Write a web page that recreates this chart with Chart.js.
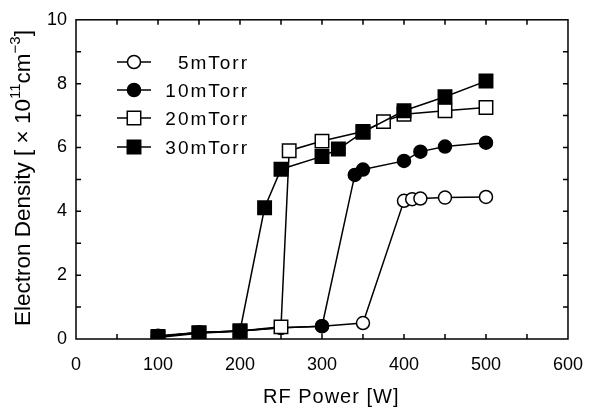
<!DOCTYPE html>
<html>
<head>
<meta charset="utf-8">
<script src="https://cdn.jsdelivr.net/npm/chart.js@4/dist/chart.umd.min.js"></script>
<style>
  body { margin: 0; background: #fff; }
</style>
</head>
<body>
<canvas id="densityChart" width="598" height="410"></canvas>
<script>
const seriesNames = ['5mTorr', '10mTorr', '20mTorr', '30mTorr'];

const power5 = [100, 150, 200, 250, 300, 350, 400, 410, 420, 450, 500];
const density5 = [0.1, 0.2, 0.25, 0.35, 0.4, 0.5, 4.33, 4.38, 4.4, 4.43, 4.45];

const power10 = [100, 150, 200, 250, 300, 340, 350, 400, 420, 450, 500];
const density10 = [0.08, 0.2, 0.25, 0.35, 0.4, 5.14, 5.31, 5.58, 5.87, 6.03, 6.15];

const power20 = [100, 150, 200, 250, 260, 300, 350, 375, 400, 450, 500];
const density20 = [0.08, 0.2, 0.25, 0.38, 5.9, 6.2, 6.5, 6.81, 7.04, 7.15, 7.25];

const power30 = [100, 150, 200, 230, 250, 300, 320, 350, 400, 450, 500];
const density30 = [0.05, 0.18, 0.25, 4.11, 5.32, 5.72, 5.95, 6.48, 7.15, 7.59, 8.08];

const xTicks = [0, 100, 200, 300, 400, 500, 600];
const yTicks = [0, 2, 4, 6, 8, 10];

const xTitle = 'RF Power [W]';
// y title pieces: [text, superscript?]
const yTitle = [['Electron Density [ \u00d7 10', false], ['11', true], ['cm', false], ['\u22123', true], [']', false]];

const FONT = '"Liberation Sans", Arial, sans-serif';

function toPoints(xs, ys) {
  return xs.map((x, i) => ({ x: x, y: ys[i] }));
}

function makeSet(label, xs, ys, style, fill, radius, order) {
  return {
    label: label,
    data: toPoints(xs, ys),
    showLine: true,
    borderColor: '#000',
    borderWidth: 1.5,
    pointStyle: style,
    pointRadius: radius,
    pointHoverRadius: radius,
    pointBackgroundColor: fill,
    pointBorderColor: '#000',
    pointBorderWidth: 1.5,
    order: order
  };
}

const datasets = [
  makeSet(seriesNames[0], power5, density5, 'circle', '#fff', 6.5, 4),
  makeSet(seriesNames[1], power10, density10, 'circle', '#000', 6.5, 3),
  makeSet(seriesNames[2], power20, density20, 'rect', '#fff', 9.5, 2),
  makeSet(seriesNames[3], power30, density30, 'rect', '#000', 9.5, 1)
];

// frame with inward ticks on all four sides, axis titles, legend inside the plot
const framePlugin = {
  id: 'frame',
  afterDatasetsDraw(chart) {
    const ctx = chart.ctx;
    const a = chart.chartArea;
    const xs = chart.scales.x;
    const ys = chart.scales.y;
    ctx.save();
    ctx.strokeStyle = '#000';
    ctx.lineWidth = 1.5;
    ctx.strokeRect(a.left, a.top, a.right - a.left, a.bottom - a.top);
    ctx.beginPath();
    for (let v = 50; v < 600; v += 50) {
      const px = xs.getPixelForValue(v);
      ctx.moveTo(px, a.bottom); ctx.lineTo(px, a.bottom - 5);
      ctx.moveTo(px, a.top); ctx.lineTo(px, a.top + 5);
    }
    for (let v = 1; v < 10; v += 1) {
      const py = ys.getPixelForValue(v);
      ctx.moveTo(a.left, py); ctx.lineTo(a.left + 5, py);
      ctx.moveTo(a.right, py); ctx.lineTo(a.right - 5, py);
    }
    ctx.stroke();

    // legend
    const rows = [62, 90, 118, 147];
    chart.data.datasets.forEach((ds, i) => {
      const y = rows[i];
      ctx.beginPath();
      ctx.lineWidth = 1.5;
      ctx.moveTo(117, y); ctx.lineTo(151, y);
      ctx.stroke();
      ctx.fillStyle = ds.pointBackgroundColor;
      Chart.helpers.drawPoint(ctx, {
        pointStyle: ds.pointStyle,
        rotation: 0,
        radius: ds.pointRadius,
        borderWidth: 1.5
      }, 134, y);
      ctx.fillStyle = '#000';
      ctx.font = '19px ' + FONT;
      ctx.letterSpacing = '2px';
      ctx.textAlign = 'right';
      ctx.textBaseline = 'alphabetic';
      ctx.fillText(ds.label, 249, y + 7);
    });

    // x title
    ctx.fillStyle = '#000';
    ctx.font = '20px ' + FONT;
    ctx.letterSpacing = '1px';
    ctx.textAlign = 'left';
    ctx.textBaseline = 'alphabetic';
    ctx.fillText(xTitle, 263, 403);

    // y title, rotated, with real superscripts
    ctx.letterSpacing = '0px';
    ctx.translate(30, 326);
    ctx.rotate(-Math.PI / 2);
    let off = 0;
    yTitle.forEach(([txt, sup]) => {
      ctx.font = (sup ? '15px ' : '22.5px ') + FONT;
      ctx.fillText(txt, off, sup ? -10 : 0);
      off += ctx.measureText(txt).width;
    });
    ctx.restore();
  }
};

new Chart(document.getElementById('densityChart').getContext('2d'), {
  type: 'scatter',
  data: { datasets: datasets },
  plugins: [framePlugin],
  options: {
    responsive: false,
    animation: false,
    layout: { padding: { top: 10, right: 30, left: 0, bottom: 0 } },
    plugins: {
      legend: { display: false },
      tooltip: { enabled: false }
    },
    scales: {
      x: {
        type: 'linear',
        min: 0,
        max: 600,
        afterBuildTicks: (scale) => { scale.ticks = xTicks.map(v => ({ value: v })); },
        afterFit: (scale) => { scale.height = 71; },
        grid: { display: false, drawTicks: false },
        border: { display: false },
        ticks: { color: '#000', font: { family: FONT, size: 18 }, padding: 15, maxRotation: 0 }
      },
      y: {
        min: 0,
        max: 10,
        afterBuildTicks: (scale) => { scale.ticks = yTicks.map(v => ({ value: v })); },
        afterFit: (scale) => { scale.width = 76; },
        grid: { display: false, drawTicks: false },
        border: { display: false },
        ticks: { color: '#000', font: { family: FONT, size: 18 }, padding: 9 }
      }
    }
  }
});
</script>
</body>
</html>
